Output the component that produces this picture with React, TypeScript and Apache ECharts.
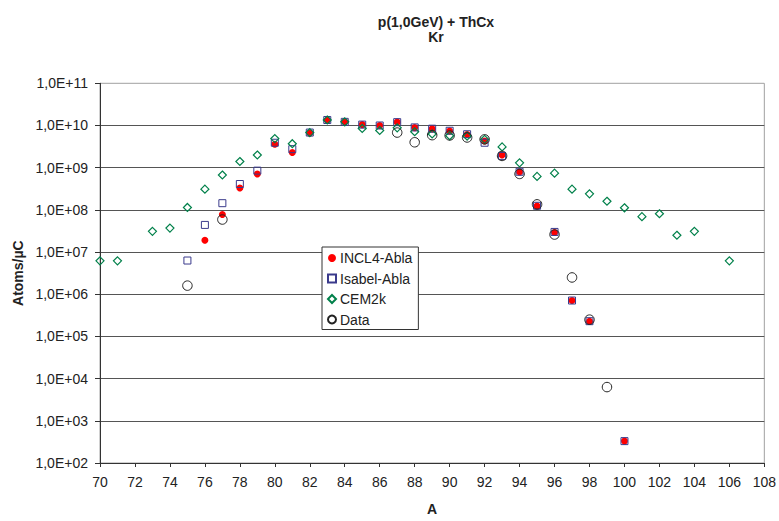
import * as echarts from "echarts";
import { useEffect, useRef } from "react";

// mass number A, atoms per µC
const incl4Abla = [
  [76, 1.9e7], [77, 7.8e7], [78, 3.3e8], [79, 7.1e8], [80, 3.6e9], [81, 2.3e9],
  [82, 6.6e9], [83, 1.33e10], [84, 1.22e10], [85, 1.05e10], [86, 1.0e10], [87, 1.2e10],
  [88, 8.9e9], [89, 8.3e9], [90, 7.4e9], [91, 6.1e9], [92, 4.3e9], [93, 2.0e9],
  [94, 7.9e8], [95, 1.23e8], [96, 2.9e7], [97, 7.1e5], [98, 2.3e5], [100, 3.3e2],
];

const isabelAbla = [
  [75, 6.3e6], [76, 4.4e7], [77, 1.44e8], [78, 4.1e8], [79, 8.5e8], [80, 3.9e9],
  [81, 2.75e9], [82, 6.8e9], [83, 1.35e10], [84, 1.22e10], [85, 1.05e10], [86, 1.0e10],
  [87, 1.2e10], [88, 9.0e9], [89, 8.4e9], [90, 7.5e9], [91, 6.2e9], [92, 3.9e9],
  [93, 1.9e9], [94, 8.0e8], [95, 1.25e8], [96, 3.0e7], [97, 7.1e5], [98, 2.3e5],
  [100, 3.3e2],
];

const cem2k = [
  [70, 6.2e6], [71, 6.2e6], [73, 3.1e7], [74, 3.7e7], [75, 1.14e8], [76, 3.1e8],
  [77, 6.7e8], [78, 1.4e9], [79, 2.0e9], [80, 4.9e9], [81, 3.7e9], [82, 6.8e9],
  [83, 1.35e10], [84, 1.22e10], [85, 8.5e9], [86, 7.6e9], [87, 8.8e9], [88, 7.1e9],
  [89, 6.3e9], [90, 5.7e9], [91, 5.6e9], [92, 4.7e9], [93, 3.1e9], [94, 1.3e9],
  [95, 6.2e8], [96, 7.4e8], [97, 3.1e8], [98, 2.4e8], [99, 1.6e8], [100, 1.12e8],
  [101, 6.9e7], [102, 8.1e7], [103, 2.5e7], [104, 3.1e7], [106, 6.2e6],
];

const measured = [
  [75, 1.6e6], [77, 5.9e7], [87, 6.8e9], [88, 4.0e9], [89, 5.9e9], [90, 5.8e9],
  [91, 5.2e9], [92, 4.7e9], [93, 1.9e9], [94, 7.1e8], [95, 1.35e8], [96, 2.6e7],
  [97, 2.5e6], [98, 2.5e5], [99, 6.3e3],
];

const seriesNames = ["INCL4-Abla", "Isabel-Abla", "CEM2k", "Data"];
const titleLines = ["p(1,0GeV) + ThCx", "Kr"];

const FONT = "'Liberation Sans', Arial, sans-serif";

export default function App() {
  const chartRef = useRef(null);
  useEffect(() => {
    document.body.style.margin = "0";
    const chart = echarts.init(chartRef.current, null, { renderer: "svg" });
    chart.setOption(getChartOption());
    return () => {
      chart.dispose();
    };
  }, []);
  return <div ref={chartRef} style={{ width: "779px", height: "521px" }} />;
}

function getChartOption() {
  const titleStyle = {
    fontFamily: FONT,
    fontSize: 14,
    fontWeight: "bold",
    color: "#222",
  };
  const option = {
    animation: false,
    backgroundColor: "#fff",
    textStyle: { fontFamily: FONT },
    title: [
      { text: titleLines[0], left: 436, top: 15, padding: 0, textAlign: "center", textStyle: titleStyle },
      { text: titleLines[1], left: 436, top: 29.5, padding: 0, textAlign: "center", textStyle: titleStyle },
    ],
    legend: {
      orient: "vertical",
      left: 322,
      top: 247,
      padding: [4, 6, 3, 5],
      itemGap: 6.5,
      itemWidth: 8,
      itemHeight: 8,
      backgroundColor: "#fff",
      borderColor: "#333",
      borderWidth: 1,
      borderRadius: 0,
      selectedMode: false,
      textStyle: { fontFamily: FONT, fontSize: 14, color: "#222", padding: [0, 0, 0, -1] },
      data: [
        { name: seriesNames[0], icon: "circle" },
        { name: seriesNames[1], icon: "rect" },
        { name: seriesNames[2], icon: "diamond" },
        { name: seriesNames[3], icon: "circle" },
      ],
    },
    grid: {
      left: 100,
      right: 12.3,
      top: 83.3,
      bottom: 53.3,
      show: true,
      borderColor: "#a0a0a0",
      borderWidth: 1,
      backgroundColor: "transparent",
    },
    xAxis: {
      type: "value",
      min: 70,
      max: 108,
      interval: 2,
      name: "A",
      nameLocation: "middle",
      nameGap: 39,
      nameTextStyle: { fontFamily: FONT, fontSize: 14, fontWeight: "bold", color: "#222" },
      axisLine: { lineStyle: { color: "#333", width: 1 } },
      axisTick: { show: true, inside: false, length: 4, lineStyle: { color: "#333" } },
      axisLabel: { fontFamily: FONT, fontSize: 14, color: "#222", margin: 12 },
      splitLine: { show: false },
    },
    yAxis: {
      type: "log",
      logBase: 10,
      min: 1e2,
      max: 1e11,
      interval: 1,
      name: "Atoms/µC",
      nameLocation: "middle",
      nameGap: 71,
      nameTextStyle: { fontFamily: FONT, fontSize: 14, fontWeight: "bold", color: "#222" },
      axisLine: { show: true, lineStyle: { color: "#333", width: 1 } },
      axisTick: { show: true, inside: false, length: 5, lineStyle: { color: "#333" } },
      axisLabel: {
        fontFamily: FONT,
        fontSize: 14,
        color: "#222",
        margin: 12,
        formatter: (v) => "1,0E+" + String(Math.round(Math.log10(v))).padStart(2, "0"),
      },
      splitLine: {
        show: true,
        showMinLine: false,
        showMaxLine: false,
        lineStyle: { color: "#555", width: 1 },
      },
    },
    series: [
      {
        name: seriesNames[0],
        type: "scatter",
        symbol: "circle",
        symbolSize: 7,
        data: incl4Abla,
        itemStyle: { color: "#ff0000", opacity: 1 },
      },
      {
        name: seriesNames[1],
        type: "scatter",
        symbol: "rect",
        symbolSize: 7,
        data: isabelAbla,
        itemStyle: { color: "rgba(0,0,0,0)", borderColor: "#3a3a8c", borderWidth: 1, opacity: 1 },
      },
      {
        name: seriesNames[2],
        type: "scatter",
        symbol: "diamond",
        symbolSize: 8,
        data: cem2k,
        itemStyle: { color: "rgba(0,0,0,0)", borderColor: "#00804a", borderWidth: 1.2, opacity: 1 },
      },
      {
        name: seriesNames[3],
        type: "scatter",
        symbol: "circle",
        symbolSize: 9.5,
        data: measured,
        itemStyle: { color: "rgba(0,0,0,0)", borderColor: "#222", borderWidth: 1, opacity: 1 },
      },
    ],
  };

  return option;
}
